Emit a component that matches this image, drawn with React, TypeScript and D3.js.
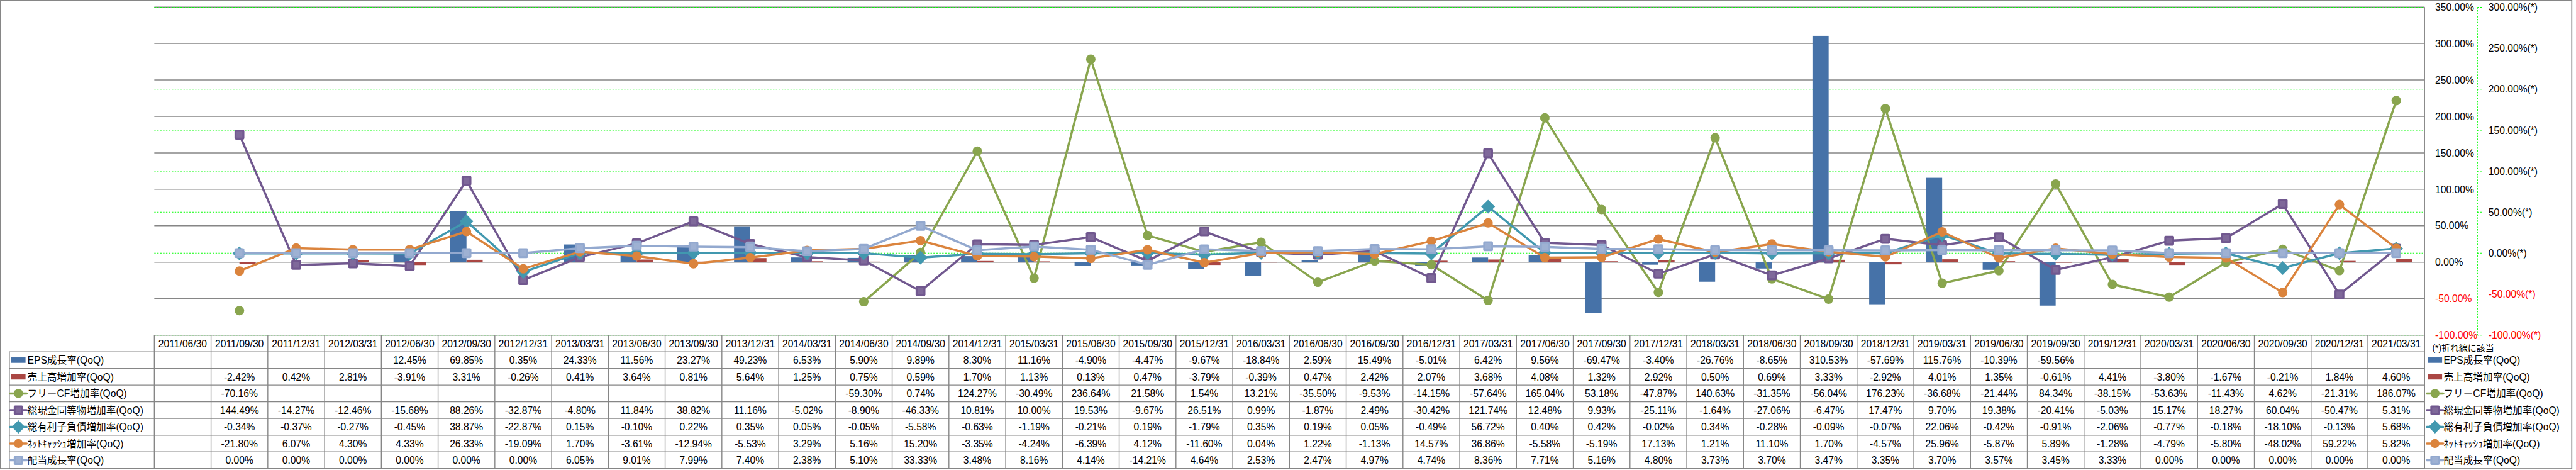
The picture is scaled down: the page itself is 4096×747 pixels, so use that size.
import React from 'react';
import * as d3 from 'd3';

// reference size, drawn at 0.58
const W = 7052;
const H = 1286;
const S = 0.58;

const dates = [
  '2011/06/30', '2011/09/30', '2011/12/31', '2012/03/31', '2012/06/30', '2012/09/30', '2012/12/31', '2013/03/31',
  '2013/06/30', '2013/09/30', '2013/12/31', '2014/03/31', '2014/06/30', '2014/09/30', '2014/12/31', '2015/03/31',
  '2015/06/30', '2015/09/30', '2015/12/31', '2016/03/31', '2016/06/30', '2016/09/30', '2016/12/31', '2017/03/31',
  '2017/06/30', '2017/09/30', '2017/12/31', '2018/03/31', '2018/06/30', '2018/09/30', '2018/12/31', '2019/03/31',
  '2019/06/30', '2019/09/30', '2019/12/31', '2020/03/31', '2020/06/30', '2020/09/30', '2020/12/31', '2021/03/31'
];

type V = number | null;

const eps: V[] = [
  null, null, null, null, 12.45, 69.85, 0.35, 24.33, 11.56, 23.27, 49.23, 6.53, 5.90, 9.89, 8.30, 11.16,
  -4.90, -4.47, -9.67, -18.84, 2.59, 15.49, -5.01, 6.42, 9.56, -69.47, -3.40, -26.76, -8.65, 310.53, -57.69, 115.76,
  -10.39, -59.56, null, null, null, null, null, null
];
const sales: V[] = [
  null, -2.42, 0.42, 2.81, -3.91, 3.31, -0.26, 0.41, 3.64, 0.81, 5.64, 1.25, 0.75, 0.59, 1.70, 1.13,
  0.13, 0.47, -3.79, -0.39, 0.47, 2.42, 2.07, 3.68, 4.08, 1.32, 2.92, 0.50, 0.69, 3.33, -2.92, 4.01,
  1.35, -0.61, 4.41, -3.80, -1.67, -0.21, 1.84, 4.60
];
const freeCf: V[] = [
  null, -70.16, null, null, null, null, null, null, null, null, null, null, -59.30, 0.74, 124.27, -30.49,
  236.64, 21.58, 1.54, 13.21, -35.50, -9.53, -14.15, -57.64, 165.04, 53.18, -47.87, 140.63, -31.35, -56.04, 176.23, -36.68,
  -21.44, 84.34, -38.15, -53.63, -11.43, 4.62, -21.31, 186.07
];
const cash: V[] = [
  null, 144.49, -14.27, -12.46, -15.68, 88.26, -32.87, -4.80, 11.84, 38.82, 11.16, -5.02, -8.90, -46.33, 10.81, 10.00,
  19.53, -9.67, 26.51, 0.99, -1.87, 2.49, -30.42, 121.74, 12.48, 9.93, -25.11, -1.64, -27.06, -6.47, 17.47, 9.70,
  19.38, -20.41, -5.03, 15.17, 18.27, 60.04, -50.47, 5.31
];
const debt: V[] = [
  null, -0.34, -0.37, -0.27, -0.45, 38.87, -22.87, 0.15, -0.10, 0.22, 0.35, 0.05, -0.05, -5.58, -0.63, -1.19,
  -0.21, 0.19, -1.79, 0.35, 0.19, 0.05, -0.49, 56.72, 0.40, 0.42, -0.02, 0.34, -0.28, -0.09, -0.07, 22.06,
  -0.42, -0.91, -2.06, -0.77, -0.18, -18.10, -0.13, 5.68
];
const netCash: V[] = [
  null, -21.80, 6.07, 4.30, 4.33, 26.33, -19.09, 1.70, -3.61, -12.94, -5.53, 3.29, 5.16, 15.20, -3.35, -4.24,
  -6.39, 4.12, -11.60, 0.04, 1.22, -1.13, 14.57, 36.86, -5.58, -5.19, 17.13, 1.21, 11.10, 1.70, -4.57, 25.96,
  -5.87, 5.89, -1.28, -4.79, -5.80, -48.02, 59.22, 5.82
];
const dividend: V[] = [
  null, 0.00, 0.00, 0.00, 0.00, 0.00, 0.00, 6.05, 9.01, 7.99, 7.40, 2.38, 5.10, 33.33, 3.48, 8.16,
  4.14, -14.21, 4.64, 2.53, 2.47, 4.97, 4.74, 8.36, 7.71, 5.16, 4.80, 3.73, 3.70, 3.47, 3.35, 3.70,
  3.57, 3.45, 3.33, 0.00, 0.00, 0.00, 0.00, 0.00
];

const barSeries = [
  { name: 'EPS成長率(QoQ)', color: '#4672A8', values: eps },
  { name: '売上高増加率(QoQ)', color: '#AA4643', values: sales }
];
const lineSeries = [
  { name: 'フリーCF増加率(QoQ)', color: '#89A54E', marker: 'circle', values: freeCf },
  { name: '総現金同等物増加率(QoQ)', color: '#71588F', marker: 'square', values: cash },
  { name: '総有利子負債増加率(QoQ)', color: '#4198AF', marker: 'diamond', values: debt },
  { name: 'ﾈｯﾄｷｬｯｼｭ増加率(QoQ)', color: '#DB843D', marker: 'circle', values: netCash },
  { name: '配当成長率(QoQ)', color: '#93A9CF', marker: 'square', values: dividend }
];

const leftTicks = d3.range(-100, 351, 50);
const rightTicks = d3.range(-100, 301, 50);

const FONT = "'Liberation Sans', 'Noto Sans CJK JP', sans-serif";
const GRID = '#868686';

const plotL = 423;
const plotR = 6647;
const plotT = 19.3;
const plotB = 918.3;
const headB = 964;
const tableB = 1284;
const rowH = (tableB - headB) / 7;

const Marker = ({ shape, x, y, color, k = 1 }: { shape: string; x: number; y: number; color: string; k?: number }) => {
  if (shape === 'circle') {
    return <circle cx={x} cy={y} r={13 * k} fill={color} />;
  }
  if (shape === 'diamond') {
    const r = 19 * k;
    return <path d={`M${x},${y - r}L${x + r},${y}L${x},${y + r}L${x - r},${y}Z`} fill={color} />;
  }
  const a = 13.5 * k;
  return (
    <g>
      <rect x={x - a} y={y - a} width={2 * a} height={2 * a} rx={4 * k} fill={color} />
      <rect x={x - a * 0.6} y={y - a * 0.6} width={a * 1.2} height={a * 1.2} fill="#fff" fillOpacity={0.1} />
    </g>
  );
};

const LegendKey = ({ s, x, y }: { s: any; x: number; y: number }) => {
  if (!s.marker) {
    return <rect x={x} y={y - 7.5} width={39} height={15} fill={s.color} />;
  }
  return (
    <g>
      <line x1={x - 3} x2={x + 42} y1={y} y2={y} stroke={s.color} strokeWidth={6} strokeLinecap="round" />
      <Marker shape={s.marker} x={x + 19.5} y={y} color={s.color} k={0.95} />
    </g>
  );
};

export default function App() {
  const x = d3.scaleBand<string>().domain(dates).range([plotL, plotR]).padding(0);
  const bw = x.bandwidth();
  const barW = bw / 3.5;
  const yL = d3.scaleLinear().domain([-100, 350]).range([plotB, plotT]);
  const yR = d3.scaleLinear().domain([-100, 300]).range([plotB, 19.7]);

  const line = d3.line<V>()
    .defined(d => d != null)
    .x((_, i) => (x(dates[i]) as number) + bw / 2)
    .y(d => yR(d as number));

  const allSeries: any[] = [...barSeries, ...lineSeries];
  const fmt = (v: number) => `${v.toFixed(2)}%`;

  return (
    <svg
      width={4096}
      height={747}
      style={{ position: 'fixed', left: 0, top: 0, background: '#fff' }}
    >
      <g transform={`scale(${S})`} fontFamily={FONT}>
        <rect x={0} y={0} width={W} height={H} fill="#fff" />

        {/* primary gridlines */}
        {leftTicks.map(t => (
          <line key={'gl' + t} x1={plotL} x2={plotR} y1={yL(t)} y2={yL(t)} stroke={GRID} strokeWidth={2.4} />
        ))}
        {/* secondary gridlines */}
        {rightTicks.map(t => (
          <line key={'gr' + t} x1={plotL} x2={plotR} y1={yR(t)} y2={yR(t)} stroke="#00FF00"
            strokeWidth={1.8} strokeDasharray="4 4" />
        ))}

        {/* bars */}
        {barSeries.map((s, si) =>
          s.values.map((v, i) => {
            if (v == null) return null;
            const cx = (x(dates[i]) as number) + bw / 2;
            const y0 = yL(0);
            const y1 = yL(v);
            return (
              <rect key={s.name + i} x={si === 0 ? cx - barW : cx} y={Math.min(y0, y1)} width={barW}
                height={Math.abs(y1 - y0)} fill={s.color} />
            );
          })
        )}

        {/* lines */}
        {lineSeries.map(s => (
          <g key={s.name}>
            <path d={line(s.values) || ''} fill="none" stroke={s.color} strokeWidth={6}
              strokeLinejoin="round" strokeLinecap="round" />
            {s.values.map((v, i) => v == null ? null : (
              <Marker key={i} shape={s.marker} x={(x(dates[i]) as number) + bw / 2} y={yR(v)} color={s.color} />
            ))}
          </g>
        ))}

        {/* plot right edge */}
        <line x1={plotR} x2={plotR} y1={plotT} y2={tableB} stroke={GRID} strokeWidth={2.4} />

        {/* primary axis labels */}
        {leftTicks.map(t => (
          <text key={'tl' + t} x={6676} y={yL(t)} dy="0.36em" fontSize={27} fill={t < 0 ? '#FF0000' : '#000'}>
            {fmt(t)}
          </text>
        ))}

        {/* secondary axis */}
        <line x1={6792} x2={6792} y1={19.7} y2={plotB} stroke="#00FF00" strokeWidth={1.8} strokeDasharray="4 4" />
        {rightTicks.map(t => (
          <g key={'tr' + t}>
            <line x1={6792} x2={6804} y1={yR(t)} y2={yR(t)} stroke="#00FF00" strokeWidth={1.8} strokeDasharray="4 4" />
            <text x={6822} y={yR(t)} dy="0.36em" fontSize={27} fill={t < 0 ? '#FF0000' : '#000'}>
              {fmt(t)}(*)
            </text>
          </g>
        ))}

        {/* data table */}
        <line x1={plotL} x2={plotR} y1={plotB} y2={plotB} stroke={GRID} strokeWidth={2.4} />
        {d3.range(8).map(r => (
          <line key={'hr' + r} x1={25.7} x2={plotR} y1={headB + r * rowH} y2={headB + r * rowH}
            stroke={GRID} strokeWidth={2.4} />
        ))}
        <line x1={25.7} x2={25.7} y1={headB} y2={tableB} stroke={GRID} strokeWidth={2.4} />
        {d3.range(dates.length + 1).map(i => (
          <line key={'vc' + i} x1={plotL + i * bw} x2={plotL + i * bw} y1={plotB} y2={tableB}
            stroke={GRID} strokeWidth={2.4} />
        ))}
        {dates.map(d => (
          <text key={'h' + d} x={(x(d) as number) + bw / 2} y={(plotB + headB) / 2} dy="0.36em"
            textAnchor="middle" fontSize={27}>{d}</text>
        ))}
        {allSeries.map((s, r) => {
          const cy = headB + (r + 0.5) * rowH;
          return (
            <g key={'row' + r}>
              <LegendKey s={s} x={31} y={cy} />
              <text x={75} y={cy} dy="0.36em" fontSize={27}>{s.name}</text>
              {s.values.map((v: V, i: number) => v == null ? null : (
                <text key={i} x={(x(dates[i]) as number) + bw / 2} y={cy} dy="0.36em" textAnchor="middle"
                  fontSize={27}>{fmt(v)}</text>
              ))}
            </g>
          );
        })}

        {/* right legend */}
        <text x={6668} y={953} dy="0.36em" fontSize={24}>(*)折れ線に該当</text>
        {allSeries.map((s, r) => {
          const cy = headB + (r + 0.5) * rowH;
          return (
            <g key={'lg' + r}>
              <LegendKey s={s} x={6656} y={cy} />
              <text x={6699} y={cy} dy="0.36em" fontSize={27}>{s.name}</text>
            </g>
          );
        })}

        {/* chart border */}
        <rect x={1.5} y={1.5} width={W - 3} height={H - 3} fill="none" stroke={GRID} strokeWidth={3} />
      </g>
    </svg>
  );
}
